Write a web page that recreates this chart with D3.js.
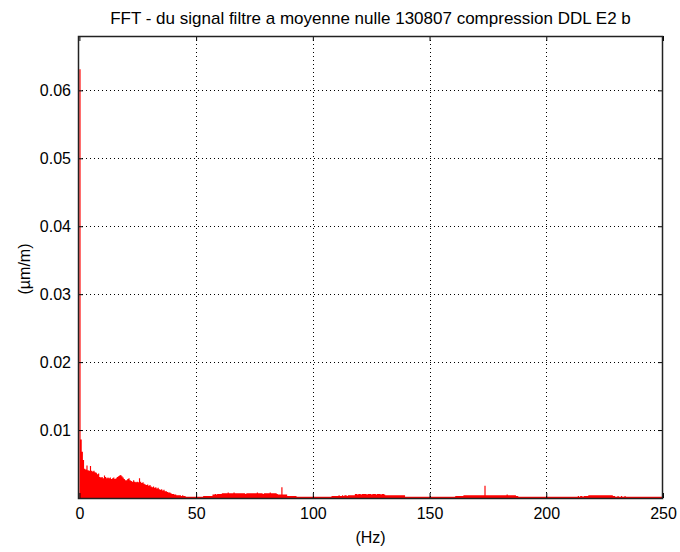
<!DOCTYPE html>
<html><head><meta charset="utf-8">
<script src="https://cdn.jsdelivr.net/npm/d3@7/dist/d3.min.js"></script>
<style>body{margin:0;background:#fff}svg{display:block}text{font-family:"Liberation Sans",Arial,sans-serif;fill:#000}</style>
</head><body><svg id="c" width="680" height="552"></svg>
<script>
const title = "FFT - du signal filtre a moyenne nulle 130807 compression DDL E2 b";
const xLabel = "(Hz)";
const yLabel = "(µm/m)";
const xTicks = [0, 50, 100, 150, 200, 250];
const yTicks = [0.01, 0.02, 0.03, 0.04, 0.05, 0.06];
const freqStepHz = 0.5;
// FFT amplitude per 0.5 Hz bin, 0 .. 250 Hz
const amplitudes = [
0.0631,0.0086,0.0068,0.0056,0.0043,0.0042,0.0048,0.0041,0.0040,0.0047,0.0040,0.0039,0.0040,0.0038,0.0037,0.0035,0.0036,0.0031,0.0030,0.0031,
0.0029,0.0033,0.0031,0.0029,0.0030,0.0029,0.0030,0.0028,0.0029,0.0030,0.0028,0.0029,0.0031,0.0032,0.0033,0.0034,0.0032,0.0030,0.0028,0.0026,
0.0026,0.0028,0.0029,0.0026,0.0025,0.0024,0.0026,0.0024,0.0023,0.0024,0.0023,0.0029,0.0024,0.0022,0.0023,0.0021,0.0020,0.0019,0.0020,0.0018,
0.0019,0.0017,0.0016,0.0017,0.0015,0.0016,0.0014,0.0015,0.0013,0.0012,0.0013,0.0011,0.0012,0.0010,0.0010,0.0009,0.0008,0.0008,0.0007,0.0006,
0.0006,0.0005,0.0005,0.0004,0.0004,0.0004,0.0004,0.0003,0.0004,0.0003,0.0003,0.0002,0.0002,0.0002,0.0002,0.0002,0.0002,0.0002,0.0002,0.0002,
0.0002,0.0002,0.0002,0.0002,0.0002,0.0002,0.0003,0.0003,0.0003,0.0003,0.0003,0.0003,0.0003,0.0003,0.0005,0.0005,0.0006,0.0005,0.0006,0.0006,
0.0006,0.0006,0.0007,0.0007,0.0007,0.0007,0.0007,0.0008,0.0007,0.0007,0.0007,0.0007,0.0008,0.0007,0.0007,0.0007,0.0007,0.0007,0.0007,0.0007,
0.0007,0.0007,0.0006,0.0007,0.0007,0.0007,0.0007,0.0007,0.0007,0.0007,0.0007,0.0007,0.0008,0.0007,0.0007,0.0007,0.0007,0.0006,0.0007,0.0007,
0.0007,0.0007,0.0007,0.0008,0.0007,0.0007,0.0007,0.0007,0.0007,0.0006,0.0005,0.0005,0.0005,0.0016,0.0005,0.0005,0.0005,0.0005,0.0003,0.0003,
0.0003,0.0003,0.0003,0.0003,0.0003,0.0003,0.0002,0.0002,0.0002,0.0002,0.0002,0.0002,0.0002,0.0002,0.0002,0.0002,0.0002,0.0002,0.0002,0.0002,
0.0002,0.0002,0.0002,0.0002,0.0002,0.0002,0.0002,0.0002,0.0002,0.0002,0.0002,0.0002,0.0002,0.0002,0.0002,0.0002,0.0003,0.0003,0.0003,0.0003,
0.0003,0.0003,0.0004,0.0003,0.0003,0.0004,0.0003,0.0004,0.0004,0.0003,0.0004,0.0004,0.0004,0.0004,0.0004,0.0004,0.0006,0.0006,0.0005,0.0006,
0.0006,0.0005,0.0006,0.0006,0.0006,0.0006,0.0005,0.0006,0.0006,0.0006,0.0005,0.0006,0.0006,0.0006,0.0005,0.0006,0.0006,0.0006,0.0005,0.0006,
0.0006,0.0005,0.0004,0.0004,0.0004,0.0004,0.0004,0.0004,0.0004,0.0004,0.0004,0.0004,0.0004,0.0004,0.0004,0.0004,0.0004,0.0004,0.0004,0.0002,
0.0002,0.0002,0.0002,0.0002,0.0002,0.0002,0.0002,0.0002,0.0002,0.0002,0.0002,0.0002,0.0002,0.0002,0.0002,0.0002,0.0002,0.0002,0.0002,0.0002,
0.0002,0.0002,0.0002,0.0002,0.0002,0.0002,0.0002,0.0002,0.0002,0.0002,0.0002,0.0002,0.0002,0.0002,0.0002,0.0002,0.0002,0.0002,0.0002,0.0002,
0.0002,0.0002,0.0003,0.0003,0.0003,0.0003,0.0003,0.0003,0.0003,0.0004,0.0004,0.0004,0.0004,0.0004,0.0004,0.0004,0.0004,0.0004,0.0004,0.0004,
0.0004,0.0004,0.0004,0.0004,0.0004,0.0004,0.0004,0.0018,0.0004,0.0004,0.0004,0.0004,0.0004,0.0004,0.0004,0.0004,0.0004,0.0004,0.0004,0.0004,
0.0004,0.0004,0.0004,0.0004,0.0004,0.0004,0.0005,0.0004,0.0004,0.0004,0.0004,0.0004,0.0004,0.0004,0.0003,0.0003,0.0002,0.0002,0.0002,0.0002,
0.0002,0.0002,0.0002,0.0002,0.0002,0.0002,0.0002,0.0002,0.0002,0.0002,0.0002,0.0002,0.0002,0.0002,0.0002,0.0002,0.0002,0.0002,0.0002,0.0002,
0.0002,0.0002,0.0002,0.0002,0.0002,0.0002,0.0002,0.0002,0.0002,0.0002,0.0002,0.0002,0.0002,0.0002,0.0002,0.0002,0.0002,0.0002,0.0002,0.0002,
0.0002,0.0002,0.0002,0.0002,0.0002,0.0002,0.0002,0.0003,0.0002,0.0003,0.0003,0.0002,0.0003,0.0003,0.0003,0.0003,0.0004,0.0004,0.0004,0.0004,
0.0004,0.0004,0.0004,0.0004,0.0004,0.0004,0.0004,0.0004,0.0004,0.0004,0.0004,0.0004,0.0004,0.0004,0.0004,0.0004,0.0004,0.0003,0.0003,0.0002,
0.0002,0.0003,0.0002,0.0002,0.0003,0.0002,0.0002,0.0003,0.0002,0.0002,0.0002,0.0002,0.0002,0.0002,0.0002,0.0002,0.0002,0.0002,0.0002,0.0002,
0.0002,0.0002,0.0002,0.0002,0.0002,0.0002,0.0002,0.0002,0.0002,0.0002,0.0002,0.0002,0.0002,0.0002,0.0002,0.0002,0.0002,0.0002,0.0002,0.0002,
0.0002
];
const data = amplitudes.map((v, i) => ({ f: i * freqStepHz, v }));

const L = 78, R = 663, T = 36, B = 498;
const svg = d3.select("#c");
const x = d3.scaleLinear().domain([-0.6, 250]).range([L, R]);
const y = d3.scaleLinear().domain([0, 0.068]).range([B, T]);

svg.append("rect").attr("x", L).attr("y", T).attr("width", R - L).attr("height", B - T).attr("fill", "#fff");

// grid
const g = svg.append("g");
g.selectAll(".vg").data(xTicks.filter(d => d > 0 && d < 250)).join("line")
  .attr("x1", d => Math.round(x(d)) + 0.5).attr("x2", d => Math.round(x(d)) + 0.5)
  .attr("y1", T).attr("y2", B).attr("stroke", "#000").attr("stroke-dasharray", "1,3");
g.selectAll(".hg").data(yTicks).join("line")
  .attr("y1", d => Math.round(y(d)) + 0.5).attr("y2", d => Math.round(y(d)) + 0.5)
  .attr("x1", L).attr("x2", R).attr("stroke", "#000").attr("stroke-dasharray", "1,3");

// spectrum
const area = d3.area().curve(d3.curveStepAfter)
  .x(d => x(d.f)).y0(y(0)).y1(d => y(d.v));
svg.append("path").datum(data).attr("d", area).attr("fill", "#ff0000").attr("stroke", "none");

// axes (MATLAB style box with inward ticks)
const FS = 16;
const ax = svg.append("g");
const xb = d3.axisBottom(x).tickValues(xTicks).tickSize(-5).tickPadding(10).tickFormat(d3.format("d"));
const xt = d3.axisTop(x).tickValues(xTicks).tickSize(-5).tickFormat("");
const yl = d3.axisLeft(y).tickValues(yTicks).tickSize(-5).tickPadding(7).tickFormat(d3.format(".2f"));
const yr = d3.axisRight(y).tickValues(yTicks).tickSize(-5).tickFormat("");
function style(sel) {
  sel.select(".domain").remove();
  sel.selectAll("line").attr("stroke", "#000");
  sel.selectAll("text").attr("font-size", FS).attr("font-family", "Liberation Sans, Arial, sans-serif").attr("fill", "#000");
}
ax.append("g").attr("transform", `translate(0,${B})`).call(xb).call(style);
ax.append("g").attr("transform", `translate(0,${T})`).call(xt).call(style);
ax.append("g").attr("transform", `translate(${L},0)`).call(yl).call(style);
ax.append("g").attr("transform", `translate(${R},0)`).call(yr).call(style);
ax.append("rect").attr("x", L + 0.5).attr("y", T + 0.5).attr("width", R - L - 1).attr("height", B - T)
  .attr("fill", "none").attr("stroke", "#222").attr("stroke-width", 1.5);

svg.append("text").attr("x", (L + R) / 2).attr("y", 24).attr("text-anchor", "middle")
  .attr("font-size", 17).text(title);
svg.append("text").attr("x", (L + R) / 2).attr("y", 543).attr("text-anchor", "middle")
  .attr("font-size", FS).text(xLabel);
svg.append("text").attr("transform", `translate(30,${(T + B) / 2 + 2}) rotate(-90)`).attr("text-anchor", "middle")
  .attr("font-size", FS).text(yLabel);
</script></body></html>
